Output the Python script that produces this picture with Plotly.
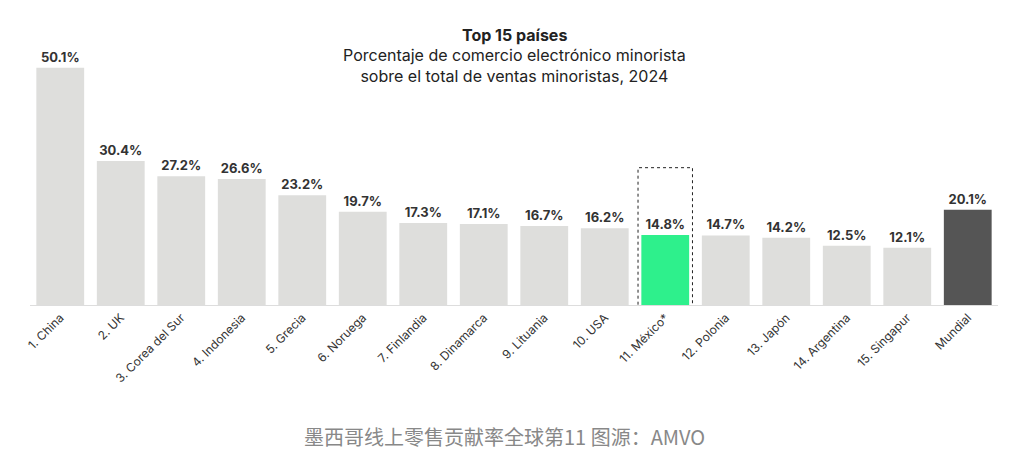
import plotly.graph_objects as go

categories = ["1. China", "2. UK", "3. Corea del Sur", "4. Indonesia", "5. Grecia", "6. Noruega",
              "7. Finlandia", "8. Dinamarca", "9. Lituania", "10. USA", "11. México*", "12. Polonia",
              "13. Japón", "14. Argentina", "15. Singapur", "Mundial"]
values = [50.1, 30.4, 27.2, 26.6, 23.2, 19.7, 17.3, 17.1, 16.7, 16.2, 14.8, 14.7, 14.2, 12.5, 12.1, 20.1]

colors = ["#DEDEDC"] * len(categories)
colors[10] = "#2EF08C"
colors[-1] = "#555555"

fig = go.Figure(go.Bar(
    x=categories, y=values, marker_color=colors, marker_line_width=0,
    text=[f"{v:.1f}%" for v in values], textposition="outside",
    textfont=dict(family="Inter, Roboto, sans-serif", size=13, color="#333333"),
    texttemplate="<b>%{text}</b>", cliponaxis=False, width=0.79,
))

fig.add_shape(type="rect", xref="x", yref="y", x0=9.55, x1=10.45, y0=-0.8, y1=29,
              line=dict(color="#222222", width=1, dash="dot"), fillcolor="rgba(0,0,0,0)", layer="above")

fig.add_annotation(text="<b>Top 15 países</b>", xref="paper", yref="paper", x=0.5, y=1.0,
                   yanchor="middle", yshift=-7, showarrow=False,
                   font=dict(family="Inter, Roboto, sans-serif", size=16, color="#222"))
fig.add_annotation(text="Porcentaje de comercio electrónico minorista<br>sobre el total de ventas minoristas, 2024",
                   xref="paper", yref="paper", x=0.5, y=1.0, yanchor="middle", yshift=-37, showarrow=False,
                   font=dict(family="Inter, Roboto, sans-serif", size=16, color="#222"))
fig.add_annotation(text="墨西哥线上零售贡献率全球第11 图源：AMVO", xref="paper", yref="paper",
                   x=0.49, y=0, yshift=-131, yanchor="middle", showarrow=False,
                   font=dict(family="Noto Sans CJK SC", size=20, color="#888888"))

fig.update_layout(
    width=1013, height=456, margin=dict(l=22, r=23, t=20, b=159),
    plot_bgcolor="white", paper_bgcolor="white", showlegend=False,
    xaxis=dict(tickangle=-45, automargin=False,
               tickfont=dict(family="Inter, Roboto, sans-serif", size=12, color="#333"),
               showline=True, linecolor="#DDDDDD", ticks=""),
    yaxis=dict(range=[0, 58.5], visible=False, automargin=False),
)
fig.write_html("out.html")
